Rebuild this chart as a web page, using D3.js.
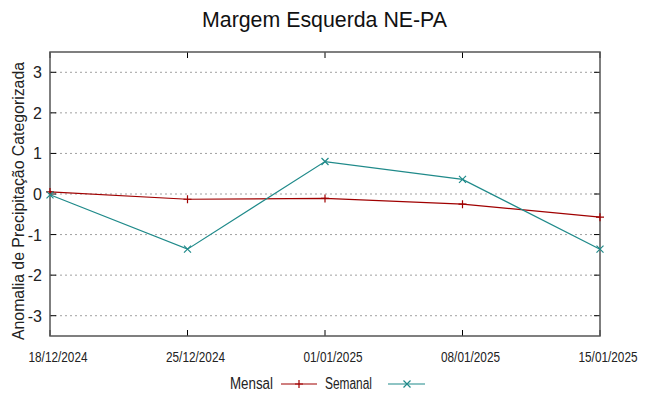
<!DOCTYPE html>
<html><head><meta charset="utf-8">
<script src="https://cdn.jsdelivr.net/npm/d3@7"></script>
<style>body{margin:0;background:#fff}svg{display:block}text{font-family:"Liberation Sans",Arial,sans-serif}</style>
</head><body><svg id="c" width="648" height="396"></svg>
<script>
const dates = ["18/12/2024","25/12/2024","01/01/2025","08/01/2025","15/01/2025"];
const mensal = [0.05,-0.13,-0.11,-0.25,-0.57];
const semanal = [-0.02,-1.36,0.80,0.36,-1.36];
const yTicks = [-3,-2,-1,0,1,2,3];
const title = "Margem Esquerda NE-PA";
const yLabel = "Anomalia de Precipitação Categorizada";
const seriesNames = ["Mensal","Semanal"];

const svg = d3.select("#c");
const m = {l:50, r:600, t:52, b:336};
const parse = d3.timeParse("%d/%m/%Y");
const xd = dates.map(parse);
const x = d3.scaleTime().domain([xd[0], xd[xd.length-1]]).range([m.l, m.r]);
const y = d3.scaleLinear().domain([-3.5,3.5]).range([m.b, m.t]);

// grid
svg.append("g").selectAll("line").data(yTicks).join("line")
  .attr("x1", m.l).attr("x2", m.r).attr("y1", d=>y(d)).attr("y2", d=>y(d))
  .attr("stroke","#a0a0a0").attr("stroke-width",1).attr("stroke-dasharray","2,3");

// ticks
const tk = svg.append("g").attr("stroke","#000").attr("stroke-width",1);
yTicks.forEach(d=>{
  tk.append("line").attr("x1",m.l).attr("x2",m.l+6).attr("y1",y(d)).attr("y2",y(d));
  tk.append("line").attr("x1",m.r-6).attr("x2",m.r).attr("y1",y(d)).attr("y2",y(d));
});
xd.forEach(d=>{
  tk.append("line").attr("x1",x(d)).attr("x2",x(d)).attr("y1",m.b).attr("y2",m.b-6);
  tk.append("line").attr("x1",x(d)).attr("x2",x(d)).attr("y1",m.t).attr("y2",m.t+6);
});

// border
svg.append("rect").attr("x",m.l).attr("y",m.t).attr("width",m.r-m.l).attr("height",m.b-m.t)
  .attr("fill","none").attr("stroke","#555").attr("stroke-width",1.5);

// y tick labels
svg.append("g").selectAll("text").data(yTicks).join("text")
  .attr("x",42).attr("y",d=>y(d)+6).attr("text-anchor","end")
  .attr("font-size",16).attr("fill","#222").text(d=>d);

// x tick labels
svg.append("g").selectAll("text").data(dates).join("text")
  .attr("x",(d,i)=>x(xd[i])+8).attr("y",362).attr("text-anchor","middle")
  .attr("font-size",14).attr("fill","#222")
  .attr("textLength",59).attr("lengthAdjust","spacingAndGlyphs").text(d=>d);

// title
svg.append("text").attr("x",324.5).attr("y",27).attr("text-anchor","middle")
  .attr("font-size",22).attr("fill","#111").attr("textLength",245).attr("lengthAdjust","spacingAndGlyphs").text(title);

// y label
svg.append("text").attr("transform","translate(24,201) rotate(-90)").attr("text-anchor","middle")
  .attr("font-size",16).attr("fill","#222").attr("textLength",278).attr("lengthAdjust","spacingAndGlyphs").text(yLabel);

const colors = ["#a00000","#1f8a8a"];
const line = d3.line().x((d,i)=>x(xd[i])).y(d=>y(d));
const plot = svg.append("g");
plot.append("path").datum(mensal).attr("d",line).attr("fill","none").attr("stroke",colors[0]).attr("stroke-width",1.2);
plot.append("path").datum(semanal).attr("d",line).attr("fill","none").attr("stroke",colors[1]).attr("stroke-width",1.2);
const plus = (g,cx,cy,c)=>{g.append("path").attr("d",`M${cx-4},${cy}H${cx+4}M${cx},${cy-4}V${cy+4}`).attr("stroke",c).attr("stroke-width",1.2).attr("fill","none");};
const cross = (g,cx,cy,c)=>{g.append("path").attr("d",`M${cx-3.5},${cy-3.5}L${cx+3.5},${cy+3.5}M${cx-3.5},${cy+3.5}L${cx+3.5},${cy-3.5}`).attr("stroke",c).attr("stroke-width",1.2).attr("fill","none");};
mensal.forEach((v,i)=>plus(plot,x(xd[i]),y(v),colors[0]));
semanal.forEach((v,i)=>cross(plot,x(xd[i]),y(v),colors[1]));

// legend
const lg = svg.append("g");
lg.append("text").attr("x",273).attr("y",389).attr("text-anchor","end").attr("font-size",16).attr("fill","#222")
  .attr("textLength",43).attr("lengthAdjust","spacingAndGlyphs").text(seriesNames[0]);
lg.append("line").attr("x1",281).attr("x2",317).attr("y1",384).attr("y2",384).attr("stroke",colors[0]).attr("stroke-width",1.2);
plus(lg,299,384,colors[0]);
lg.append("text").attr("x",372).attr("y",389).attr("text-anchor","end").attr("font-size",16).attr("fill","#222")
  .attr("textLength",47).attr("lengthAdjust","spacingAndGlyphs").text(seriesNames[1]);
lg.append("line").attr("x1",388).attr("x2",425).attr("y1",384).attr("y2",384).attr("stroke",colors[1]).attr("stroke-width",1.2);
cross(lg,407,384,colors[1]);
</script></body></html>
